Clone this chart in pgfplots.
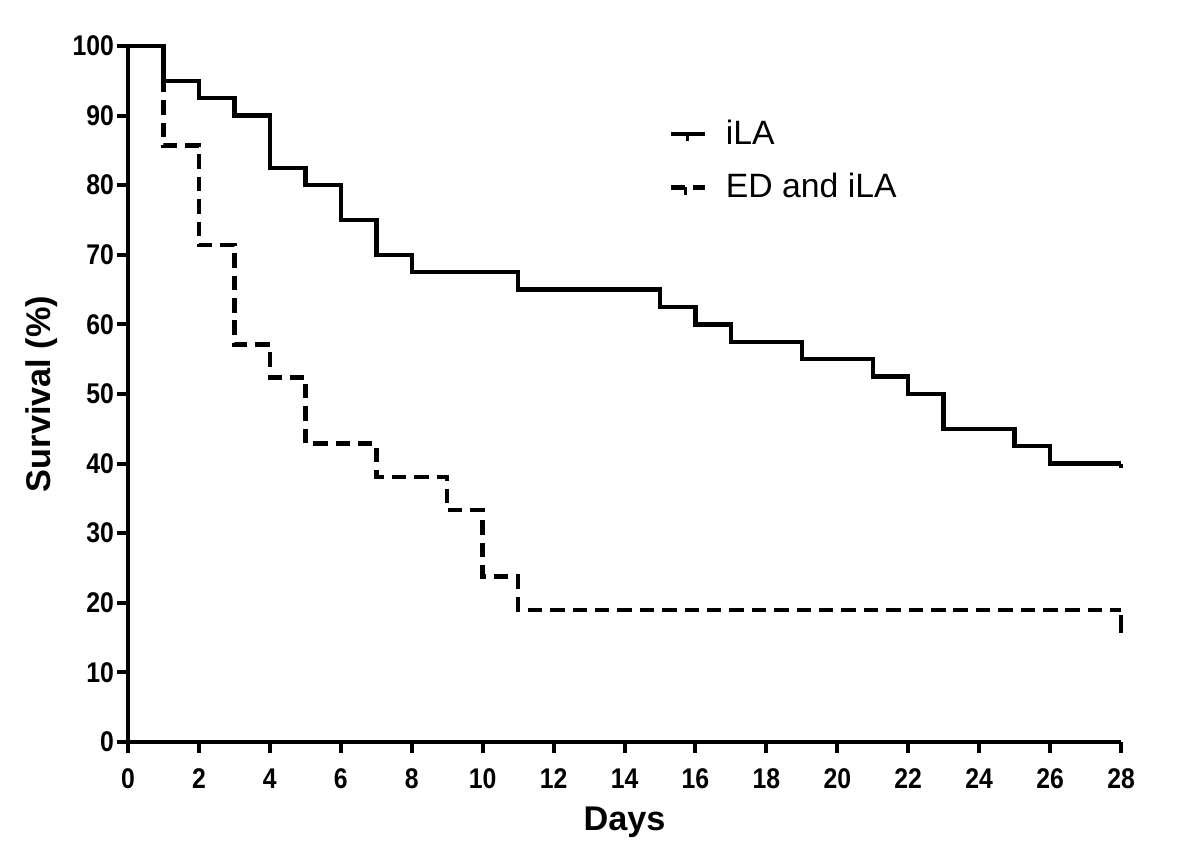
\documentclass[border=0pt]{standalone}
\usepackage{pgfplots}
\pgfplotsset{compat=1.18}
\usepackage{fontspec}
\setmainfont{Liberation Sans}
\newfontfamily\tickfont[FakeStretch=0.87]{Liberation Sans}
\pgfplotsset{
  kmsolid/.style={legend image code/.code={\draw[black,line width=1.8pt] (0cm,0cm) -- (0.45cm,0cm); \draw[black,line width=1.2pt] (0.22cm,0cm) -- (0.22cm,-0.1cm);}},
  kmdash/.style={legend image code/.code={\draw[black,line width=1.8pt] (0cm,0cm) -- (0.2cm,0cm); \draw[black,line width=1.8pt] (0.3cm,0cm) -- (0.45cm,0cm); \draw[black,line width=1.2pt] (0.2cm,0cm) -- (0.2cm,-0.1cm);}},
}
\begin{document}
\begin{tikzpicture}
\begin{axis}[
  scale only axis,
  width=13.24cm, height=9.28cm,
  xmin=0, xmax=28, ymin=0, ymax=100,
  axis lines=left,
  axis line style={-, line width=1.5pt},
  xtick distance=2, ytick distance=10,
  tick align=outside,
  major tick length=4pt,
  tick style={line width=1.5pt, black},
  /pgf/number format/assume math mode=true,
  tick label style={font=\tickfont\bfseries\fontsize{10.8}{12}\selectfont},
  xticklabel style={yshift=-2.7pt},
  yticklabel style={xshift=2.2pt},
  xlabel={Days}, ylabel={Survival (\%)},
  label style={font=\bfseries\fontsize{13}{15}\selectfont},
  ylabel shift={-1pt},
  legend style={at={(axis cs:15.0,91.0)}, anchor=north west, draw=none, fill=none,
    font=\fontsize{12.8}{14}\selectfont, row sep=5.5pt,
    /tikz/every odd column/.append style={column sep=5.2pt}},
  legend cell align=left,
  clip=false,
]
\addplot[const plot, black, line width=1.7pt, kmsolid]
coordinates {(0,100) (1,95) (2,92.5) (3,90) (4,82.5) (5,80) (6,75) (7,70) (8,67.5) (11,65) (15,62.5) (16,60) (17,57.5) (19,55) (21,52.5) (22,50) (23,45) (25,42.5) (26,40) (28,40)};
\addlegendentry{iLA}
\addplot[const plot, black, line width=1.7pt, dash pattern=on 5.5pt off 3pt, kmdash]
coordinates {(0,100) (1,85.7) (2,71.4) (3,57.1) (4,52.4) (5,42.9) (7,38.1) (9,33.3) (10,23.8) (11,19.0) (28,19.0)};
\addlegendentry{ED and iLA}
\addplot[black, line width=1.5pt, forget plot] coordinates {(28,40) (28,39.3)};
\addplot[black, line width=1.5pt, forget plot] coordinates {(28,18.3) (28,15.6)};
\end{axis}
\path[use as bounding box] ([xshift=-1.707cm,yshift=-1.467cm]current axis.south west) rectangle ([xshift=1.053cm,yshift=0.613cm]current axis.north east);
\end{tikzpicture}
\end{document}
